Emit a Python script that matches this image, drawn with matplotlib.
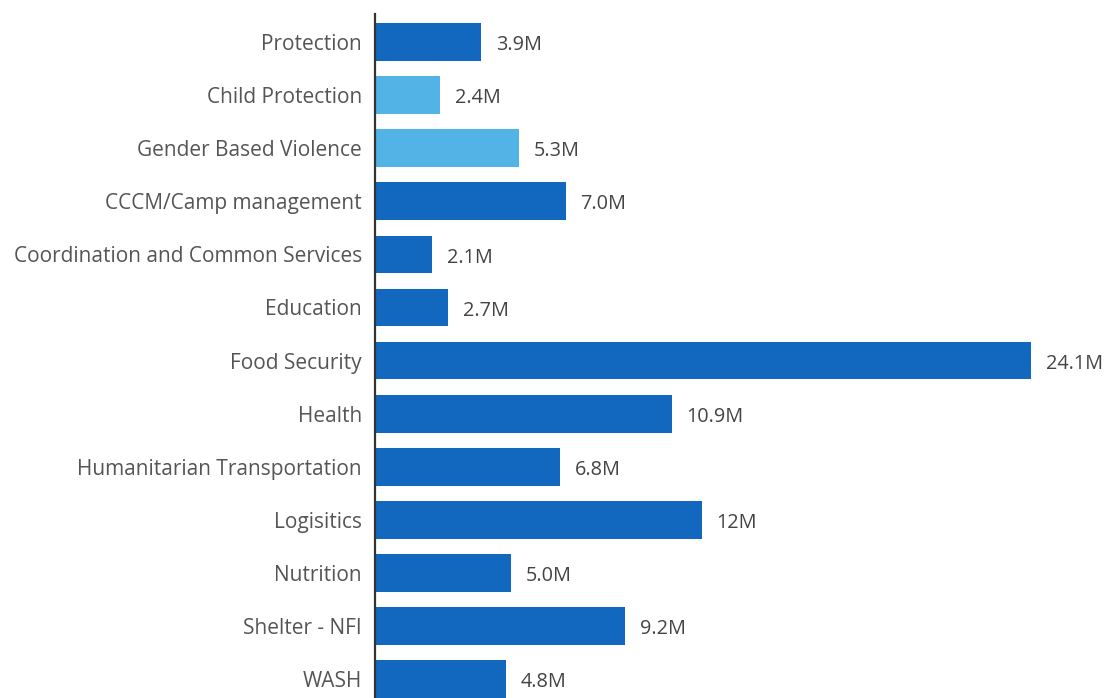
import matplotlib.pyplot as plt

clusters = [
    "Protection", "Child Protection", "Gender Based Violence",
    "CCCM/Camp management", "Coordination and Common Services",
    "Education", "Food Security", "Health", "Humanitarian Transportation",
    "Logisitics", "Nutrition", "Shelter - NFI", "WASH",
]
funding = [3.9, 2.4, 5.3, 7.0, 2.1, 2.7, 24.1, 10.9, 6.8, 12, 5.0, 9.2, 4.8]
value_labels = ["3.9M", "2.4M", "5.3M", "7.0M", "2.1M", "2.7M", "24.1M",
                "10.9M", "6.8M", "12M", "5.0M", "9.2M", "4.8M"]
sub_clusters = ["Child Protection", "Gender Based Violence"]

DARK_BLUE = "#1267be"
LIGHT_BLUE = "#52b4e6"

plt.rcParams["font.family"] = ["Open Sans", "DejaVu Sans"]

fig = plt.figure(figsize=(11.05, 6.98), dpi=100)
ax = fig.add_axes([375 / 1105, 0, 730 / 1105, 1 - 14 / 698])

colors = [LIGHT_BLUE if c in sub_clusters else DARK_BLUE for c in clusters]
ypos = list(range(len(clusters)))
bars = ax.barh(ypos, funding, height=0.71, color=colors)

# value labels sit just right of each bar
for rect, lbl in zip(bars, value_labels):
    ax.text(rect.get_width() + 0.55, rect.get_y() + rect.get_height() / 2 + 0.06,
            lbl, va="center", ha="left", fontsize=14.3, color="#444444")

ax.set_xlim(0, 730 / 27.22)
ax.set_ylim(12.354, -0.527)
ax.set_yticks(ypos)
ax.set_yticklabels(clusters, fontsize=15, color="#555555")
ax.tick_params(axis="y", length=0, pad=9.5)
ax.set_xticks([])

for side in ["top", "right", "bottom"]:
    ax.spines[side].set_visible(False)
ax.spines["left"].set_color("#333333")
ax.spines["left"].set_linewidth(1.6)

fig.savefig("out.png", dpi=100)
